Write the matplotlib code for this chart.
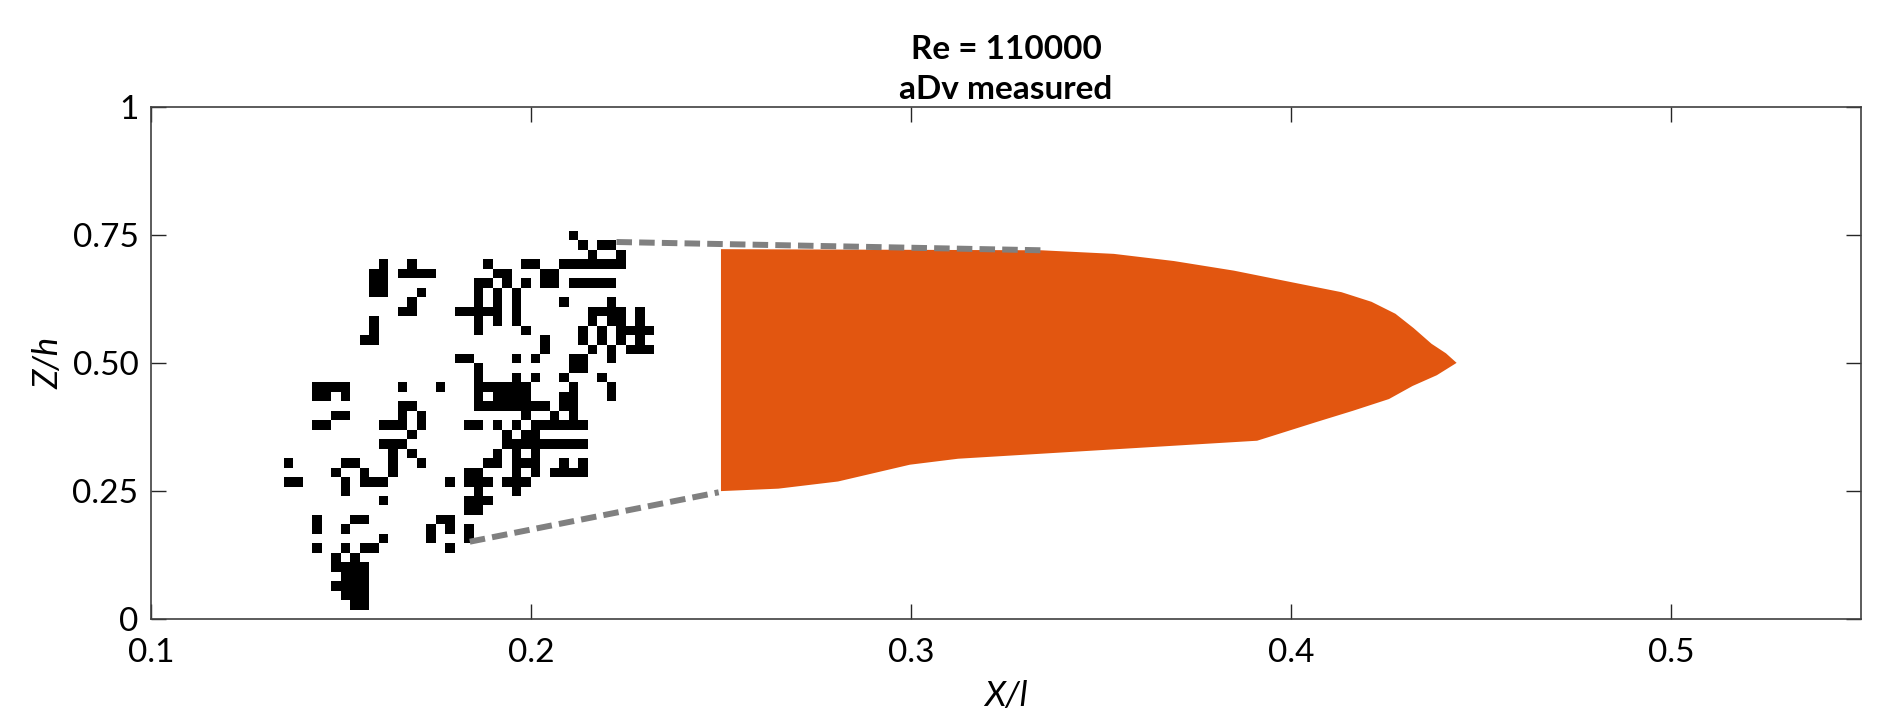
import numpy as np
import matplotlib.pyplot as plt
from matplotlib.colors import ListedColormap

plt.rcParams['font.family'] = ['Lato', 'DejaVu Sans']

# binary field: row index -> list of black column indices
# column i spans x = 0.1 + i*dx, row j spans z = j*dz
dx = 0.0025
dz = 0.0185
black_cells = {
    40: [44],
    39: [45, 47, 48],
    38: [46, 49],
    37: [24, 27, 35, 39, 40, 43, 44, 45, 46, 47, 48, 49],
    36: [23, 24, 26, 27, 28, 29, 36, 37, 41, 42],
    35: [23, 24, 34, 35, 37, 39, 41, 42, 44, 45, 46, 47, 48],
    34: [23, 24, 28, 34, 36, 38],
    33: [27, 34, 36, 38, 43, 48],
    32: [26, 27, 32, 33, 34, 35, 36, 38, 46, 47, 48, 49, 51],
    31: [23, 34, 36, 38, 46, 48, 49, 51],
    30: [23, 34, 39, 45, 47, 49, 50, 51, 52],
    29: [22, 23, 41, 45, 47, 49, 51],
    28: [41, 46, 48, 50, 51, 52],
    27: [32, 33, 38, 40, 44, 45, 48],
    26: [34, 44, 45],
    25: [34, 38, 40, 43, 47],
    24: [17, 18, 19, 20, 26, 30, 34, 35, 36, 37, 38, 39, 44, 48],
    23: [17, 18, 20, 34, 36, 37, 38, 39, 43, 44, 48],
    22: [26, 27, 34, 35, 36, 37, 38, 39, 40, 41, 43, 44],
    21: [19, 20, 26, 28, 39, 42, 44],
    20: [17, 18, 24, 25, 26, 28, 33, 34, 36, 38, 40, 41, 42, 43, 44, 45],
    19: [27, 37, 39, 40],
    18: [24, 25, 26, 37, 38, 39, 40, 41, 42, 43, 44, 45],
    17: [25, 27, 36, 38, 40],
    16: [14, 20, 21, 25, 28, 35, 36, 38, 39, 40, 43, 45],
    15: [19, 22, 25, 33, 34, 38, 40, 42, 43, 44, 45],
    14: [14, 15, 20, 22, 23, 24, 31, 33, 34, 35, 37, 38, 39],
    13: [20, 34, 38],
    12: [24, 33, 34, 35],
    11: [33, 34],
    10: [17, 21, 22, 30, 31],
    9: [17, 20, 29, 31, 33],
    8: [24, 29, 33],
    7: [17, 20, 22, 23, 31],
    6: [19, 21],
    5: [19, 20, 21, 22],
    4: [20, 21, 22],
    3: [19, 20, 21, 22],
    2: [20, 21, 22],
    1: [21, 22],
}

# orange region outline (top edge to tip, then bottom edge back)
core_x = [0.25, 0.3344, 0.3534, 0.3692, 0.385, 0.4007, 0.4133, 0.4212, 0.4275,
          0.4323, 0.437, 0.4408, 0.4436, 0.4384, 0.432, 0.4258, 0.4163, 0.4069,
          0.399, 0.3911, 0.3754, 0.3439, 0.3124, 0.2997, 0.2808, 0.2651, 0.25]
core_z = [0.723, 0.7208, 0.7138, 0.6998, 0.681, 0.6576, 0.6389, 0.6201, 0.5967,
          0.5686, 0.538, 0.5194, 0.5007, 0.4766, 0.4555, 0.430, 0.407, 0.3855,
          0.367, 0.3485, 0.3415, 0.3274, 0.3133, 0.3016, 0.2688, 0.2548, 0.25]

# dashed connectors
upper_x = [0.2225, 0.3345]
upper_z = [0.737, 0.7208]
lower_x = [0.1839, 0.2494]
lower_z = [0.1511, 0.2477]

x_ticks = [0.1, 0.2, 0.3, 0.4, 0.5]
z_ticks = [0, 0.25, 0.5, 0.75, 1]
z_ticklabels = ['0', '0.25', '0.50', '0.75', '1']

fig = plt.figure(figsize=(18.78, 7.17), dpi=100)
ax = fig.add_axes([0.0804, 0.1367, 0.9105, 0.7134])

# build mask
n_rows = 41
n_cols = 60
mask = np.zeros((n_rows, n_cols))
for j, cols in black_cells.items():
    for i in cols:
        mask[j, i] = 1
x_edges = 0.1 + dx * np.arange(n_cols + 1)
z_edges = dz * np.arange(n_rows + 1)
ax.pcolormesh(x_edges, z_edges, np.ma.masked_equal(mask, 0),
              cmap=ListedColormap(['black']), antialiased=False, snap=True)

ax.fill(core_x, core_z, color='#E25610', linewidth=0)

ax.plot(upper_x, upper_z, color='#808080', lw=4.3, dashes=(2.6, 1.2), solid_capstyle='butt')
ax.plot(lower_x, lower_z, color='#808080', lw=4.3, dashes=(2.6, 1.2), solid_capstyle='butt')

ax.set_xlim(0.1, 0.55)
ax.set_ylim(0, 1)
ax.set_xticks(x_ticks)
ax.set_xticklabels([str(t) for t in x_ticks])
ax.set_yticks(z_ticks)
ax.set_yticklabels(z_ticklabels)

ax.tick_params(direction='in', length=11, width=1, colors='#262626', labelsize=24,
               top=True, right=True, labelcolor='black')
ax.tick_params(axis='x', pad=14)
ax.tick_params(axis='y', pad=9)
for s in ax.spines.values():
    s.set_color('#404040')
    s.set_linewidth(1.2)

ax.set_xlabel('X/l', fontsize=25, style='italic', labelpad=8)
ax.set_ylabel('Z/h', fontsize=25, style='italic', labelpad=6)
ax.set_title('Re = 110000\naDv measured', fontsize=24, fontweight='bold',
             linespacing=1.45, pad=6)

fig.savefig('out.png', dpi=100)
